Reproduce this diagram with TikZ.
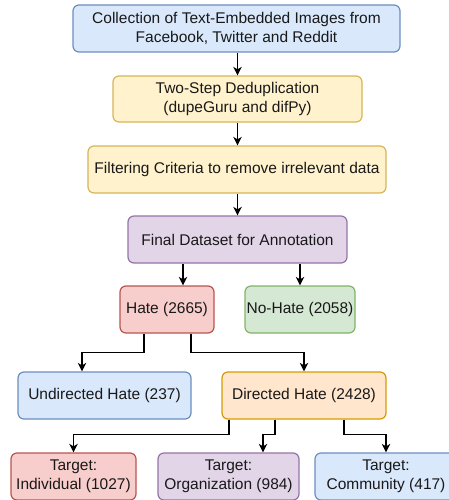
\documentclass[tikz,border=0pt]{standalone}
\usepackage{fontspec}
\setmainfont{Liberation Sans}
\usetikzlibrary{arrows.meta,calc}
\definecolor{bluef}{HTML}{DAE8FC}\definecolor{blued}{HTML}{6C8EBF}
\definecolor{yelf}{HTML}{FFF2CC}\definecolor{yeld}{HTML}{D6B656}
\definecolor{purf}{HTML}{E1D5E7}\definecolor{purd}{HTML}{9673A6}
\definecolor{redf}{HTML}{F8CECC}\definecolor{redd}{HTML}{B85450}
\definecolor{grnf}{HTML}{D5E8D4}\definecolor{grnd}{HTML}{82B366}
\definecolor{orgf}{HTML}{FFE6CC}\definecolor{orgd}{HTML}{D79B00}
\tikzset{
  box/.style={draw, rounded corners=6pt, line width=1.2pt, inner sep=0pt,
    align=center, font=\fontsize{15.5}{19}\selectfont, text=black!90},
  bluebox/.style={box, fill=bluef, draw=blued},
  yelbox/.style={box, fill=yelf, draw=yeld},
  purbox/.style={box, fill=purf, draw=purd},
  redbox/.style={box, fill=redf, draw=redd},
  grnbox/.style={box, fill=grnf, draw=grnd},
  orgbox/.style={box, fill=orgf, draw=orgd},
  arr/.style={draw, line width=1.5pt, -{Stealth[length=8.5pt,width=8.5pt,inset=2.5pt]}}
}
\begin{document}
\begin{tikzpicture}[x=1pt,y=-1pt]
\useasboundingbox (0,0) rectangle (449,500);
\clip (0,0) rectangle (449,500);
\node[bluebox, minimum width=327pt, minimum height=47pt] (b1) at (236.5,28.5)
  {Collection of Text-Embedded Images from\\Facebook, Twitter and Reddit};
\node[yelbox, minimum width=249pt, minimum height=46pt] (b2) at (237.5,99)
  {Two-Step Deduplication\\(dupeGuru and difPy)};
\node[yelbox, minimum width=298pt, minimum height=47pt] (b3) at (237,169.5)
  {Filtering Criteria to remove irrelevant data};
\node[purbox, minimum width=219pt, minimum height=47pt] (b4) at (237.5,239.5)
  {Final Dataset for Annotation};
\node[redbox, minimum width=94pt, minimum height=47pt] (hate) at (167,309.5)
  {Hate (2665)};
\node[grnbox, minimum width=110pt, minimum height=47pt] (nohate) at (300,309.5)
  {No-Hate (2058)};
\node[bluebox, minimum width=173pt, minimum height=47pt] (und) at (104.5,395.5)
  {Undirected Hate (237)};
\node[orgbox, minimum width=164pt, minimum height=47pt] (dir) at (304,395.5)
  {Directed Hate (2428)};
\node[redbox, minimum width=125pt, minimum height=47pt] (t1) at (73.5,476.5)
  {Target:\\Individual (1027)};
\node[purbox, minimum width=141pt, minimum height=47pt] (t2) at (228.5,476.5)
  {Target:\\Organization (984)};
\node[bluebox, minimum width=142pt, minimum height=47pt] (t3) at (386,476.5)
  {Target:\\Community (417)};
% arrows
\draw[arr] (b1.south -| b2.north) -- (b2.north);
\draw[arr] (b2.south) -- (b3.north -| b2.south);
\draw[arr] (b3.south -| b4.north) -- (b4.north);
\draw[arr] ([xshift=16pt]hate.north |- b4.south) -- ([xshift=16pt]hate.north);
\draw[arr] (nohate.north |- b4.south) -- (nohate.north);
\coordinate (hy) at ($(hate.south)!0.5!(und.north)$);
\draw[arr] ([xshift=-23pt]hate.south) -- ([xshift=-23pt]hate.south |- hy)
  -| ([xshift=-22.5pt]und.north);
\draw[arr] ([xshift=24pt]hate.south) -- ([xshift=24pt]hate.south |- hy)
  -| (dir.north);
\coordinate (dy) at ($(dir.south)+(0,15)$);
\draw[arr] ([xshift=-75pt]dir.south) -- ([xshift=-75pt]dir.south |- dy) -| (t1.north);
\draw[arr] ([xshift=-29pt]dir.south) -- ([xshift=-29pt]dir.south |- dy)
  -| ([xshift=34.5pt]t2.north);
\draw[arr] ([xshift=40pt]dir.south) -- ([xshift=40pt]dir.south |- dy) -| (t3.north);
\end{tikzpicture}
\end{document}
